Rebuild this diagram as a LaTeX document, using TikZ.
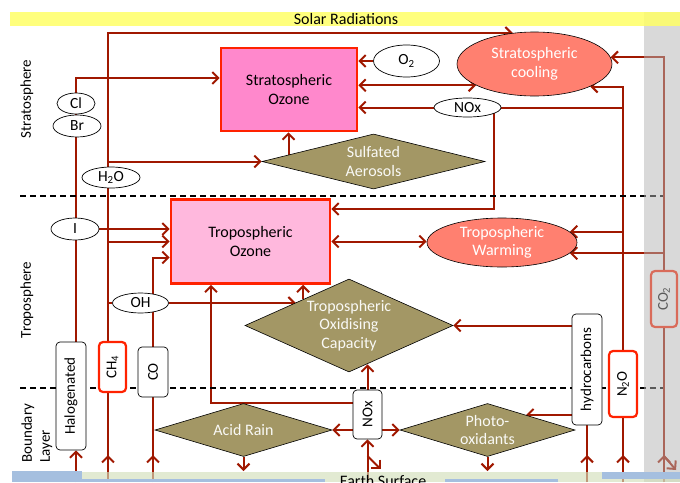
\documentclass[tikz,border=0pt]{standalone}
\usepackage{fontspec}
\setmainfont{Carlito}
\usepackage{graphicx}
\usepackage{tikz}
\usetikzlibrary{arrows.meta,calc,shapes.geometric,backgrounds,decorations.markings}

\definecolor{linkred}{RGB}{160,24,0}
\definecolor{edgered}{RGB}{255,34,0}
\definecolor{stratpink}{RGB}{255,136,204}
\definecolor{troppink}{RGB}{255,184,221}
\definecolor{salmon}{RGB}{255,128,112}
\definecolor{khaki}{RGB}{163,151,101}
\definecolor{sunyellow}{RGB}{255,255,102}
\definecolor{ground}{RGB}{210,223,186}
\definecolor{water}{RGB}{165,191,223}
\definecolor{colgray}{RGB}{180,180,180}

\tikzset{barb/.tip={Straight Barb[length=6pt,width=12pt]}}

\begin{document}
\begin{tikzpicture}[x=1pt, y=-1pt,
    font=\fontsize{16}{18.5}\selectfont,
    ozonebox/.style={rectangle, draw=edgered, line width=2.6pt, align=center, inner sep=0pt},
    effect/.style={ellipse, draw=black, line width=0.6pt, fill=salmon, text=white, align=center, inner sep=0pt},
    process/.style={diamond, draw=black, line width=0.6pt, fill=khaki, text=white!94!khaki, align=center, inner sep=0pt},
    species/.style={ellipse, draw=black, line width=0.7pt, fill=white, inner sep=0pt, font=\fontsize{15.5}{18}\selectfont},
    source/.style={rectangle, rounded corners=4pt, draw=black, line width=0.7pt, fill=white, inner sep=0pt, font=\fontsize{15}{18}\selectfont},
    ghg/.style={source, draw=edgered, line width=2.2pt},
    layerlbl/.style={rotate=90, font=\fontsize{15}{18}\selectfont},
    link/.style={color=linkred, line width=2pt},
    arrow/.style={link, -{barb}},
    arrow2/.style={link, {barb}-{barb}},
    upflux/.style={link, postaction={decorate},
        decoration={markings, mark=at position 27pt with {\arrow{barb}}}}
]
\useasboundingbox (0,0) rectangle (680,482);

% layer boundaries
\draw[dash pattern=on 6pt off 4pt, line width=1.3pt] (20,196) -- (663,196);
\draw[dash pattern=on 6pt off 4pt, line width=1.3pt] (20,388) -- (663,388);

\node[layerlbl] (strat) at (27,99) {Stratosphere};
\node[layerlbl] (trop) at (27,300) {Troposphere};
\node[layerlbl, anchor=west, align=left, inner sep=0pt] (blayer) at (37,463) {Boundary\\Layer};

% ozone and climate effects
\node[ozonebox, fill=stratpink, minimum width=136pt, minimum height=83pt] (sozone) at (289,89.5) {Stratospheric\\Ozone};
\node[ozonebox, fill=troppink, minimum width=159pt, minimum height=84pt] (tozone) at (250.5,241.5) {Tropospheric\\Ozone};
\node[effect, minimum width=155pt, minimum height=64pt] (scool) at (534.5,64) {Stratospheric\\cooling};
\node[effect, minimum width=150pt, minimum height=49pt] (twarm) at (502,242.5) {Tropospheric\\Warming};

% processes
\node[process, aspect=4.05, minimum width=223pt, minimum height=55pt] (sulf) at (373.5,161.5) {Sulfated\\Aerosols};
\node[process, aspect=2.24, minimum width=208pt, minimum height=93pt] (oxcap) at (349,325.5) {Tropospheric\\Oxidising\\Capacity};
\node[process, aspect=3.34, minimum width=177pt, minimum height=53pt] (acid) at (243.5,430) {Acid Rain};
\node[process, aspect=3.3, minimum width=175pt, minimum height=53pt] (photo) at (487.5,430) {Photo-\\oxidants};

% species
\node[species, minimum width=38pt, minimum height=21pt] (cl) at (76,103.5) {Cl};
\node[species, minimum width=48pt, minimum height=22pt] (br) at (77,126) {Br};
\node[species, minimum width=58pt, minimum height=21pt] (water) at (111,177.5) {H\textsubscript{2}O};
\node[species, minimum width=48pt, minimum height=22pt] (iodine) at (75,229) {I};
\node[species, minimum width=56pt, minimum height=20pt] (oh) at (140.5,303) {OH};
\node[species, minimum width=66pt, minimum height=32pt] (o2) at (406.5,61) {O\textsubscript{2}};
\node[species, minimum width=67pt, minimum height=19pt] (noxs) at (467.5,107.5) {NOx};

% emissions
\node[source, minimum width=30pt, minimum height=108pt] (halo) at (71,396) {\rotatebox{90}{Halogenated}};
\node[ghg, minimum width=27pt, minimum height=50pt] (ch4) at (112.5,367) {\rotatebox{90}{CH\textsubscript{4}}};
\node[source, minimum width=30pt, minimum height=50pt] (co) at (153,372) {\rotatebox{90}{CO}};
\node[source, minimum width=29pt, minimum height=49pt] (noxb) at (367.5,414.5) {\rotatebox{90}{NOx}};
\node[source, minimum width=30pt, minimum height=111pt] (hc) at (587,369.5) {\rotatebox{90}{hydrocarbons}};
\node[ghg, minimum width=28pt, minimum height=66pt] (n2o) at (623,384) {\rotatebox{90}{N\textsubscript{2}O}};
\node[ghg, minimum width=26pt, minimum height=56pt] (co2) at (664,299) {\rotatebox{90}{CO\textsubscript{2}}};

\coordinate (gnd) at (0,482);
\coordinate (surf) at (0,471);
\coordinate (dep) at (0,456);
\coordinate (meth) at ([xshift=-4.5pt]ch4.north);
\coordinate (sulfedge) at ($(sulf.west)!0.24!(sulf.north)$);
\coordinate (ohedge) at ($(oxcap.west)!0.49!(oxcap.north)$);
\coordinate (oxtop) at ($(oxcap.west)!0.56!(oxcap.north)$);
\coordinate (oxbot) at ($(oxcap.south)!0.17!(oxcap.east)$);
\coordinate (photoedge) at ($(photo.north)!0.44!(photo.east)$);

\begin{pgfonlayer}{background}
% halogens
\draw[arrow] ([xshift=5pt]halo.north) |- ([yshift=11.5pt]sozone.west);
\draw[arrow] (iodine.east) -- (iodine.east -| tozone.west);
\draw[arrow] ([xshift=5pt]halo.south |- gnd) -- ([xshift=5pt]halo.south);
% methane
\draw[arrow] (meth) |- (scool.125);
\draw[arrow] (meth |- sulf.west) -- (sulf.west);
\draw[arrow] (meth |- tozone.west) -- (tozone.west);
\draw[link] (meth |- oh.west) -- (oh.west);
\draw[arrow] (oh.east) -- (oh.east -| ohedge);
\draw[upflux] (meth |- gnd) -- ([xshift=-4.5pt]ch4.south);
% carbon monoxide
\draw[arrow] (co.north) |- ([yshift=-16pt]tozone.west);
\draw[upflux] (co.south |- gnd) -- (co.south);
% stratosphere
\draw[arrow] (o2.west) -- (o2.west -| sozone.east);
\draw[arrow2] (scool.200 -| sozone.east) -- (scool.200);
\draw[arrow] (noxs.west) -- (noxs.west -| sozone.east);
\draw[arrow] (sulfedge) -- (sulfedge |- sozone.south);
\draw[arrow] ([xshift=26pt]noxs.center) |- ([yshift=32.5pt]tozone.east);
% nitrous oxide
\draw[arrow] (n2o.north) |- (scool.338);
\draw[link] (n2o.north |- noxs.east) -- (noxs.east);
\draw[arrow] (n2o.north |- twarm.9) -- (twarm.9);
\draw[upflux] (n2o.south |- gnd) -- (n2o.south);
% carbon dioxide
\draw[arrow] (co2.north) |- (scool.5);
\draw[arrow] (co2.north |- twarm.351) -- (twarm.351);
\draw[upflux] (co2.south |- gnd) -- (co2.south);
\draw[arrow] (co2.south |- dep) -- ++(12,14);
% troposphere
\draw[arrow2] (tozone.east) -- (tozone.east -| twarm.west);
\draw[arrow] (oxtop) -- (oxtop |- tozone.south);
\draw[arrow] (hc.west |- oxcap.east) -- (oxcap.east);
\draw[arrow] (hc.west |- photoedge) -- (photoedge);
\draw[upflux] (hc.south |- gnd) -- (hc.south);
% boundary layer
\draw[arrow] ([yshift=11.5pt]noxb.west) -| ([xshift=-39.5pt]tozone.south);
\draw[arrow] (noxb.north) -- (noxb.north |- oxbot);
\draw[arrow] (noxb.west |- acid.east) -- (acid.east);
\draw[arrow] (noxb.east |- photo.west) -- (photo.west);
\draw[arrow] (noxb.south |- gnd) -- (noxb.south);
\draw[arrow] (noxb.south |- dep) -- ++(13,13);
\draw[arrow] (acid.south) -- (acid.south |- surf);
\draw[arrow] (photo.south) -- (photo.south |- surf);
\end{pgfonlayer}

% sky and ground
\fill[colgray, opacity=0.5] (644,12) rectangle (680,482);
\fill[sunyellow, opacity=0.85] (10,12) rectangle (680,26);
\node (solar) at (346,19.5) {Solar Radiations};
\fill[ground, opacity=0.65] (82,472) rectangle (680,482);
\fill[water] (12,471) rectangle (82,482);
\fill[water] (82,479) rectangle (325,482);
\fill[water] (445,479) rectangle (558,482);
\fill[water] (602,472) rectangle (680,479);
\node[anchor=base] (earth) at (383,486) {Earth Surface};
\end{tikzpicture}
\end{document}
